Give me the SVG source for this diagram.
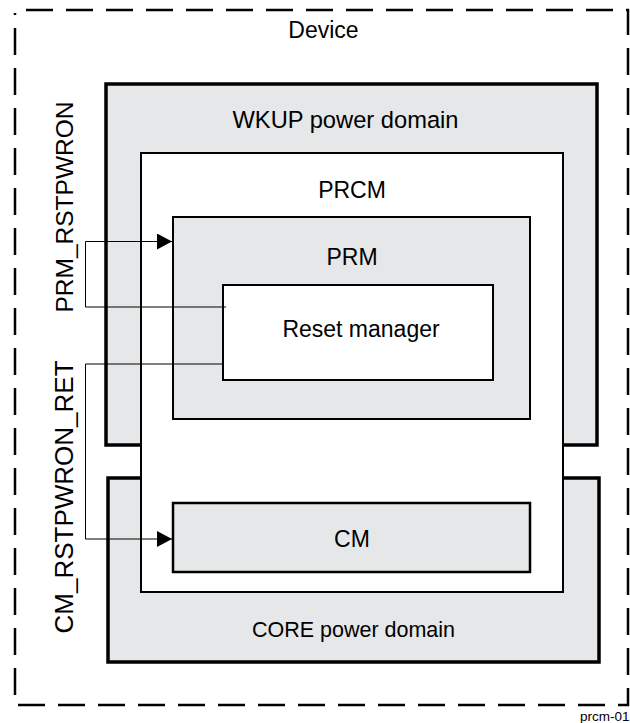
<svg xmlns="http://www.w3.org/2000/svg" width="630" height="723" viewBox="0 0 630 723">
<style>
text{font-family:"Liberation Sans",Arial,sans-serif;fill:#000;text-anchor:middle}
.lbl{font-size:23px}
.dom{fill:#e6e7e8;stroke:#000;stroke-width:3.5}
.box{fill:#e6e7e8;stroke:#000;stroke-width:2}
.wbox{fill:#fff;stroke:#000;stroke-width:2}
.con{fill:none;stroke:#000;stroke-width:1}
</style>
<defs>
<marker id="arr" markerUnits="userSpaceOnUse" markerWidth="16" markerHeight="16" refX="15" refY="8" orient="auto">
<path d="M0,0 L15,8 L0,16 Z" fill="#000"/>
</marker>
</defs>
<g id="device">
<path d="M26,10 H628 V705 H15 V13" fill="none" stroke="#000" stroke-width="2.5" stroke-dasharray="27 13"/>
<text class="lbl" x="323.5" y="38">Device</text>
</g>
<g id="wkup">
<rect class="dom" x="106" y="84" width="491" height="361"/>
<text class="lbl" x="345.5" y="128" style="font-size:23.7px">WKUP power domain</text>
</g>
<g id="core">
<rect class="dom" x="108" y="478" width="491" height="184"/>
<text class="lbl" x="353.5" y="637" style="font-size:21.5px">CORE power domain</text>
</g>
<g id="prcm">
<rect class="wbox" x="141" y="153" width="422" height="439"/>
<text class="lbl" x="352" y="198">PRCM</text>
</g>
<g id="prm">
<rect class="box" x="173" y="217" width="357" height="202"/>
<text class="lbl" x="352" y="265">PRM</text>
</g>
<g id="reset">
<rect class="wbox" x="223" y="285" width="270" height="95"/>
<text class="lbl" x="361" y="337">Reset manager</text>
</g>
<g id="cm">
<rect class="box" x="173" y="503" width="357" height="69" style="stroke-width:2.5"/>
<text class="lbl" x="352" y="547">CM</text>
</g>
<g id="connectors">
<path class="con" d="M226,307 H85.5 V241.5 H172" marker-end="url(#arr)"/>
<path class="con" d="M223,364 H85.5 V539 H172" marker-end="url(#arr)"/>
<text class="lbl" transform="translate(73,207) rotate(-90)" style="font-size:24.5px">PRM_RSTPWRON</text>
<text class="lbl" transform="translate(73,497) rotate(-90)" style="font-size:26px">CM_RSTPWRON_RET</text>
</g>
<text x="580" y="721" style="font-size:13.5px;text-anchor:start">prcm-018</text>
</svg>
